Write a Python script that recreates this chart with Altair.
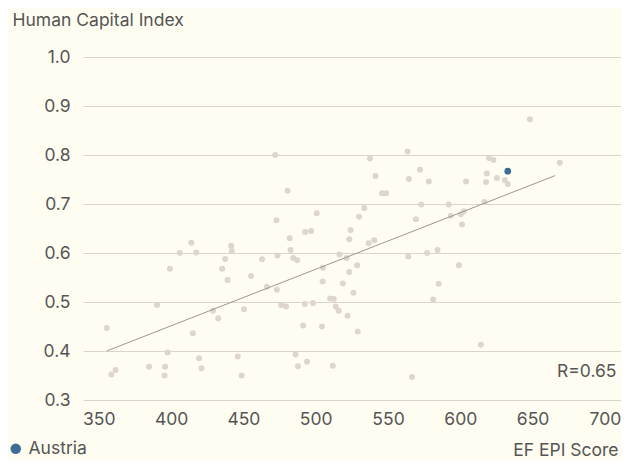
import altair as alt
import pandas as pd

# EF EPI score (x) and Human Capital Index (y) for each country
epi = [355.5, 358.7, 361.6, 390.3, 399.2, 384.8, 395.9, 395.5, 397.6, 415.1,
       419.4, 421.0, 429.0, 432.6, 435.3, 437.4, 439.0, 446.1, 448.8, 450.4,
       455.3, 462.9, 466.3, 473.1, 472.0, 472.9, 414.0, 406.0, 417.4, 441.5,
       442.0, 473.6, 563.5, 537.5, 572.1, 541.4, 564.4, 578.2, 480.6, 545.9,
       548.7, 573.0, 592.0, 593.4, 569.3, 533.6, 530.0, 500.7, 524.1, 482.0,
       492.7, 496.8, 523.2, 536.6, 540.5, 482.6, 484.5, 487.2, 516.4, 521.4,
       505.0, 528.7, 523.2, 564.0, 577.0, 584.2, 648.1, 619.9, 622.9, 668.8,
       604.0, 618.3, 617.8, 625.3, 630.8, 632.8, 616.7, 600.3, 602.4, 601.2,
       504.8, 518.8, 526.1, 510.0, 512.5, 476.1, 479.5, 492.5, 498.1, 513.8,
       515.9, 522.0, 491.3, 504.3, 529.1, 486.1, 487.7, 494.0, 511.8, 566.6,
       581.2, 585.0, 599.0, 614.2]
hci = [0.447, 0.352, 0.361, 0.494, 0.568, 0.368, 0.368, 0.350, 0.397, 0.436,
       0.385, 0.365, 0.482, 0.467, 0.568, 0.588, 0.545, 0.389, 0.350, 0.485,
       0.553, 0.587, 0.531, 0.525, 0.800, 0.667, 0.621, 0.600, 0.601, 0.615,
       0.604, 0.595, 0.807, 0.793, 0.770, 0.757, 0.751, 0.746, 0.727, 0.722,
       0.722, 0.699, 0.699, 0.676, 0.669, 0.692, 0.674, 0.681, 0.647, 0.630,
       0.643, 0.645, 0.628, 0.620, 0.626, 0.606, 0.590, 0.585, 0.597, 0.590,
       0.570, 0.575, 0.561, 0.593, 0.600, 0.606, 0.873, 0.794, 0.790, 0.784,
       0.746, 0.762, 0.745, 0.753, 0.749, 0.741, 0.704, 0.679, 0.685, 0.658,
       0.542, 0.538, 0.519, 0.507, 0.506, 0.494, 0.491, 0.496, 0.498, 0.491,
       0.482, 0.472, 0.452, 0.450, 0.440, 0.393, 0.369, 0.378, 0.370, 0.347,
       0.505, 0.537, 0.575, 0.413]

highlight_name = "Austria"
highlight_epi = [632.8]
highlight_hci = [0.767]

# regression line end points
fit_epi = [355.5, 665.6]
fit_hci = [0.400, 0.758]

r_label = ["R=0.65"]
r_label_epi = [708.0]
r_label_hci = [0.347]

x_ticks = [350, 400, 450, 500, 550, 600, 650, 700]
y_ticks = [0.3, 0.4, 0.5, 0.6, 0.7, 0.8, 0.9, 1.0]

FONT = "Inter"
FS = 17.5
TXT = "#555555"
BG = "#FFFDF1"
GREY = "#DDD5CE"
BLUE = "#3B6D96"
W, H = 538, 343

others = pd.DataFrame({"epi": epi, "hci": hci, "group": "Other"})
hl = pd.DataFrame({"epi": highlight_epi, "hci": highlight_hci, "group": highlight_name})
fit = pd.DataFrame({"epi": fit_epi, "hci": fit_hci})
ann = pd.DataFrame({"epi": r_label_epi, "hci": r_label_hci, "label": r_label})

xs = alt.Scale(domain=[339.1, 711.1], nice=False, zero=False)
ys = alt.Scale(domain=[0.3, 1.0], nice=False, zero=False)

x_axis = alt.Axis(values=x_ticks, grid=False, ticks=False, domain=False,
                  labelFont=FONT, labelFontSize=FS, labelColor=TXT, labelPadding=10,
                  title="EF EPI Score", titleFont=FONT, titleFontSize=FS,
                  titleFontWeight="normal", titleColor=TXT, titleAnchor="end",
                  titleAlign="right", titleX=W - 3, titleY=55,
                  titleBaseline="alphabetic")
y_axis = alt.Axis(values=y_ticks, format=".1f", grid=True, gridColor="#D9D5C9",
                  gridWidth=1.2, ticks=False, domain=False,
                  labelFont=FONT, labelFontSize=FS, labelColor=TXT, labelPadding=13,
                  title="Human Capital Index", titleFont=FONT, titleFontSize=FS,
                  titleFontWeight="normal", titleColor=TXT, titleAngle=0,
                  titleAlign="left", titleX=-71, titleY=-32,
                  titleBaseline="alphabetic")

base_pts = alt.Chart(others).mark_circle(size=36, opacity=1, color=GREY).encode(
    x=alt.X("epi:Q", scale=xs, axis=x_axis),
    y=alt.Y("hci:Q", scale=ys, axis=y_axis),
)

line = alt.Chart(fit).mark_line(color="#9C978F", strokeWidth=1).encode(
    x=alt.X("epi:Q", scale=xs), y=alt.Y("hci:Q", scale=ys)
)

hl_pts = alt.Chart(hl).mark_circle(size=45, opacity=1).encode(
    x=alt.X("epi:Q", scale=xs), y=alt.Y("hci:Q", scale=ys),
    color=alt.Color("group:N", scale=alt.Scale(domain=[highlight_name], range=[BLUE]),
                    legend=alt.Legend(title=None, orient="none", legendX=-76, legendY=383,
                                      labelFont=FONT, labelFontSize=FS, labelColor=TXT,
                                      symbolType="circle", symbolSize=110,
                                      symbolStrokeWidth=0, labelOffset=4, padding=0)),
)

text = alt.Chart(ann).mark_text(font=FONT, fontSize=FS, color=TXT, align="right",
                                baseline="alphabetic").encode(
    x=alt.X("epi:Q", scale=xs), y=alt.Y("hci:Q", scale=ys), text="label:N"
)

chart = alt.layer(base_pts, line, hl_pts, text).properties(
    width=W, height=H,
    autosize=alt.AutoSizeParams(type="none"),
    padding={"left": 75, "top": 49, "right": 0, "bottom": 60},
    background=BG,
).configure_view(stroke=None)

chart.save("out.html", embed_options={"renderer": "svg", "actions": False})
